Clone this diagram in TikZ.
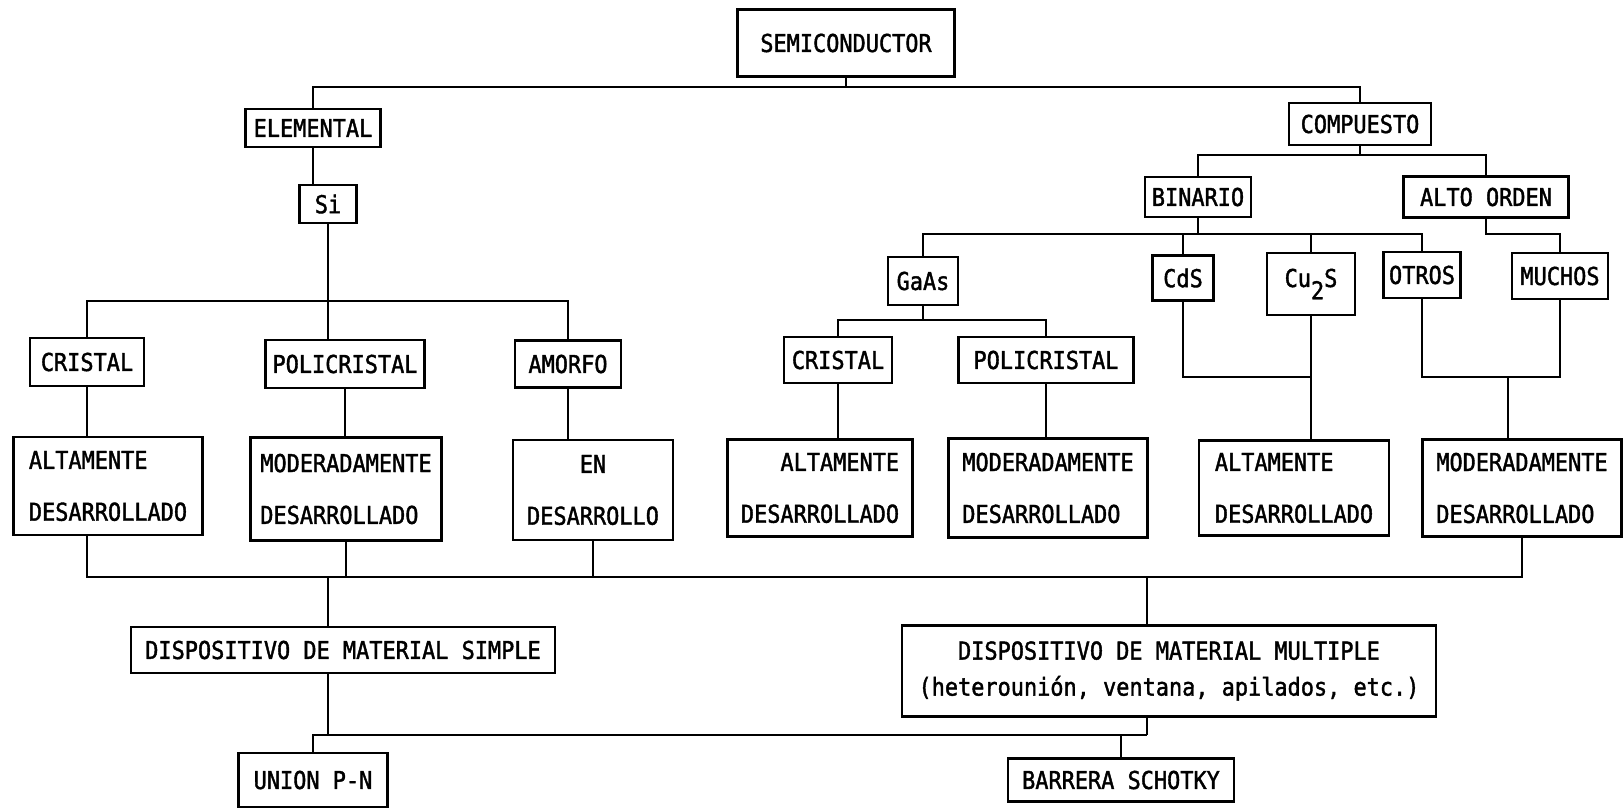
\documentclass[tikz,border=0pt]{standalone}
\usepackage{fontspec}
\usepackage{tikz}
\newfontfamily\maqfont[FakeStretch=0.89, FakeBold=1.6]{DejaVu Sans Mono}

\tikzset{
    caja/.style={draw, line width=1.6pt, inner sep=0pt, align=center,
        font=\maqfont\fontsize{14}{17}\selectfont},
    wh/.style 2 args={minimum width=#1*0.2mm, minimum height=#2*0.2mm},
    doble/.style={font=\maqfont\fontsize{14}{29.5}\selectfont},
    linea/.style={line width=1.6pt}
}

\begin{document}
\begin{tikzpicture}[x=0.2mm, y=-0.2mm]
            \useasboundingbox (0,0) rectangle (1624,809);
            % Top
            \node[caja, wh={217}{67}] (semi) at (846,43) {SEMICONDUCTOR};
            \node[caja, wh={135}{38}] (elem) at (313,128) {ELEMENTAL};
            \node[caja, wh={142}{42}] (comp) at (1360,124) {COMPUESTO};
            \node[caja, wh={57}{38}] (si) at (328,204) {Si};
            \node[caja, wh={106}{40}] (bin) at (1198,197) {BINARIO};
            \node[caja, wh={165}{41}] (alto) at (1486,197) {ALTO ORDEN};
            % Compounds
            \node[caja, wh={70}{48}] (gaas) at (923,281) {GaAs};
            \node[caja, wh={61}{45}] (cds) at (1183,278) {CdS};
            \node[caja, wh={88}{62}] (cu) at (1311,284) {Cu\raisebox{-0.5em}{2}S};
            \node[caja, wh={77}{46}] (otros) at (1422,275) {OTROS};
            \node[caja, wh={96}{46}] (muchos) at (1560,276) {MUCHOS};
            % Structure
            \node[caja, wh={114}{48}] (cris1) at (87,362) {CRISTAL};
            \node[caja, wh={159}{48}] (poli1) at (345,364) {POLICRISTAL};
            \node[caja, wh={106}{47}] (amor) at (568,364) {AMORFO};
            \node[caja, wh={108}{46}] (cris2) at (838,360) {CRISTAL};
            \node[caja, wh={175}{46}] (poli2) at (1046,360) {POLICRISTAL};
            % Development
            \node[caja, doble, align=left, wh={189}{98}] (alt1) at (108,486) {ALTAMENTE\\DESARROLLADO};
            \node[caja, doble, align=left, wh={191}{103}] (mod1) at (346,489) {MODERADAMENTE\\DESARROLLADO};
            \node[caja, doble, wh={160}{100}] (en) at (593,490) {EN\\DESARROLLO};
            \node[caja, doble, align=right, wh={185}{97}] (alt2) at (820,488) {ALTAMENTE\\DESARROLLADO};
            \node[caja, doble, align=left, wh={199}{99}] (mod2) at (1048,488) {MODERADAMENTE\\DESARROLLADO};
            \node[caja, doble, align=left, wh={190}{95}] (alt3) at (1294,488) {ALTAMENTE\\DESARROLLADO};
            \node[caja, doble, align=left, wh={199}{97}] (mod3) at (1522,488) {MODERADAMENTE\\DESARROLLADO};
            % Devices
            \node[caja, wh={424}{46}] (simple) at (343,650) {DISPOSITIVO DE MATERIAL SIMPLE};
            \node[caja, wh={534}{91}, font=\maqfont\fontsize{14}{20.5}\selectfont] (multi) at (1169,671)
                {DISPOSITIVO DE MATERIAL MULTIPLE\\(heterounión, ventana, apilados, etc.)};
            \node[caja, wh={149}{54}] (union) at (313,780) {UNION P-N};
            \node[caja, wh={226}{43}] (barrera) at (1121,780) {BARRERA SCHOTKY};
            % Bus points
            \coordinate (b0) at (846,87);
            \coordinate (b1) at (1360,155);
            \coordinate (b2) at (1198,234);
            \coordinate (b3) at (328,301);
            \coordinate (b4) at (923,320);
            \coordinate (b5) at (1311,377);
            \coordinate (b6) at (1508,377);
            \coordinate (b7) at (328,577);
            \coordinate (b8) at (1147,577);
            \coordinate (b9) at (328,735);
            \coordinate (b10) at (1147,735);
            % Semiconductor split
            \draw[linea] (semi) -- (b0);
            \draw[linea] (elem.north) |- (b0) -| (comp.north);
            \draw[linea] (elem) -- (elem |- si.north);
            % Compuesto
            \draw[linea] (comp) -- (b1);
            \draw[linea] (bin.north) |- (b1) -| (alto.north);
            \draw[linea] (bin) -- (b2);
            \draw[linea] (gaas.north) |- (b2) -| (otros.north);
            \draw[linea] (cds.north) -- (cds.north |- b2);
            \draw[linea] (cu.north) -- (cu.north |- b2);
            \draw[linea] (alto.south) -- ++(0,15) -| (muchos.north);
            % Si
            \draw[linea] (si) -- (si |- poli1.north);
            \draw[linea] (cris1.north) |- (b3) -| (amor.north);
            % GaAs
            \draw[linea] (gaas) -- (b4);
            \draw[linea] (cris2.north) |- (b4) -| (poli2.north);
            % to development boxes
            \draw[linea] (cris1.south) -- (cris1.south |- alt1.north);
            \draw[linea] (poli1.south) -- (poli1.south |- mod1.north);
            \draw[linea] (amor.south) -- (amor.south |- en.north);
            \draw[linea] (cris2.south) -- (cris2.south |- alt2.north);
            \draw[linea] (poli2.south) -- (poli2.south |- mod2.north);
            \draw[linea] (cds.south) |- (b5);
            \draw[linea] (cu.south) -- (cu.south |- alt3.north);
            \draw[linea] (otros.south) |- (b6) -| (muchos.south);
            \draw[linea] (b6) -- (b6 |- mod3.north);
            % Collector
            \draw[linea] (cris1 |- alt1.south) -- (cris1 |- b7) -- (mod3.south |- b7) -- (mod3.south);
            \draw[linea] (mod1.south) -- (mod1.south |- b7);
            \draw[linea] (en.south) -- (en.south |- b7);
            \draw[linea] (b7) -- (b7 |- simple.north);
            \draw[linea] (b8) -- (b8 |- multi.north);
            % Devices
            \draw[linea] (b7 |- simple.south) -- (b9);
            \draw[linea] (b10 |- multi.south) -- (b10);
            \draw[linea] (union.north) |- (b9) -- (b10);
            \draw[linea] (barrera.north) -- (barrera.north |- b9);
        \end{tikzpicture}
\end{document}
